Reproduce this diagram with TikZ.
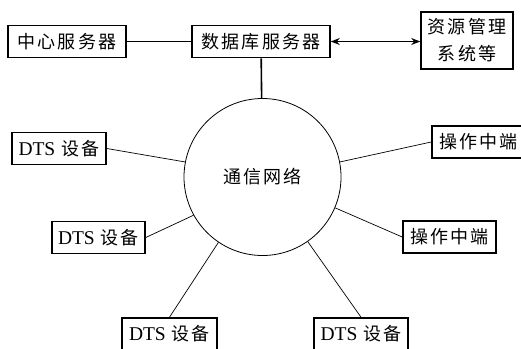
\documentclass[tikz,border=0pt]{standalone}
\usepackage{fontspec}
\setmainfont{Liberation Serif}
\newfontfamily\cjk{Noto Sans CJK SC}[LetterSpace=12]
\usetikzlibrary{arrows.meta}
\newcommand{\dtslabel}{{\fontsize{19.5}{27}\selectfont DTS}\hspace{6pt}{\cjk 设备}}

\begin{document}
\begin{tikzpicture}[x=1pt, y=-1pt, font=\fontsize{18}{27}\selectfont,
        box/.style={draw, line width=1.6pt, inner sep=0pt, minimum height=32pt},
        link/.style={line width=0.7pt}]
    \useasboundingbox (0,0) rectangle (521,348);
    % top row
    \node[box, minimum width=118pt] (center) at (67,41.5) {\cjk 中心服务器};
    \node[box, minimum width=138pt] (db) at (261,41.5) {\cjk 数据库服务器};
    \node[box, minimum width=92pt, minimum height=57pt, align=center] (res) at (467,40.5) {\cjk 资源管理\\\cjk 系统等};
    % network
    \node[circle, draw, line width=0.8pt, minimum size=157pt, inner sep=0pt] (net) at (262.5,177) {\cjk 通信网络};
    % devices and terminals
    \node[box, minimum width=94pt] (dtsa) at (59,148.5) {\dtslabel};
    \node[box, minimum width=93pt] (dtsb) at (98.5,237.5) {\dtslabel};
    \node[box, minimum width=95pt] (dtsc) at (169.5,334) {\dtslabel};
    \node[box, minimum width=94pt] (dtsd) at (361,334) {\dtslabel};
    \node[box, minimum width=93pt] (opa) at (478.5,142) {\cjk 操作中端};
    \node[box, minimum width=93pt] (opb) at (449.5,237) {\cjk 操作中端};
    % connections
    \draw[line width=1.6pt] (center) -- (db);
    \draw[line width=1.6pt, {Stealth[length=9pt,width=7pt]}-{Stealth[length=9pt,width=7pt]}] (db.east) -- (db.east -| res.west);
    \draw[line width=1.6pt] (db) -- (net);
    \draw[link] (net.169) -- (dtsa.east);
    \draw[link] (net.209) -- (dtsb.east);
    \draw[link] (net.236) -- (dtsc.north);
    \draw[link] (net.305) -- (dtsd.north);
    \draw[link] (net.11) -- (opa.west);
    \draw[link] (net.337) -- (opb.west);
\end{tikzpicture}
\end{document}
